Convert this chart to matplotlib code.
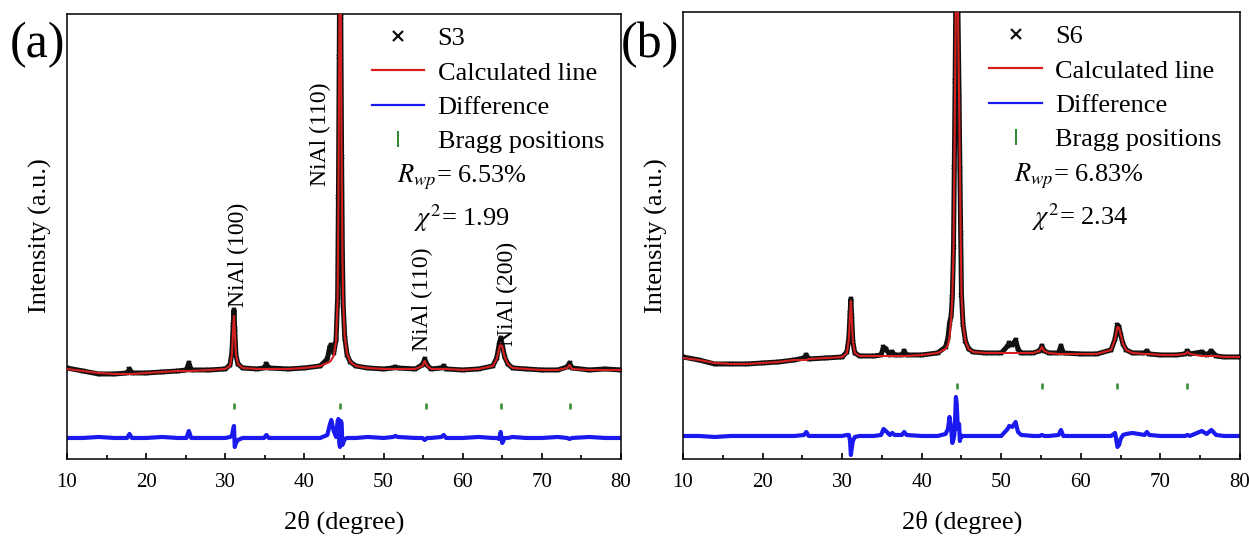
import numpy as np
import matplotlib
matplotlib.use("Agg")
import matplotlib.pyplot as plt
from matplotlib.lines import Line2D

plt.rcParams['font.family'] = ['Liberation Serif', 'DejaVu Serif']
plt.rcParams['mathtext.fontset'] = 'stix'

# ---- panel (a): S3 ----
two_theta_a = [10, 12, 14, 16, 17.6, 17.9, 18.2, 20, 22, 24,
               25.1, 25.4, 25.7, 28, 30, 30.6, 30.85, 31.0, 31.1, 31.2,
               31.35, 31.6, 32.2, 34, 34.9, 35.2, 35.5, 38, 40, 42,
               42.9, 43.2, 43.4, 43.7, 44.0, 44.2, 44.3, 44.4, 44.5, 44.6,
               44.7, 44.8, 44.9, 45.1, 45.4, 45.8, 46.5, 48, 50, 51.2,
               51.5, 51.8, 54, 54.9, 55.2, 55.5, 56, 57.3, 57.6, 57.9,
               60, 62, 63.8, 64.3, 64.6, 64.8, 65.0, 65.3, 65.7, 66.3,
               68, 70, 72, 73.2, 73.5, 73.8, 76, 78, 80]
calc_a = [90, 88, 86, 85, 85, 85, 85, 86, 87, 88,
          88, 88, 88, 89, 90, 93, 105, 130, 143, 128,
          105, 95, 91, 90, 90, 90, 90, 90, 91, 93,
          96, 97, 99, 103, 118, 160, 260, 400, 560, 440,
          300, 205, 155, 122, 105, 97, 93, 91, 90, 90,
          90, 90, 90, 93, 98, 93, 90, 90, 90, 90,
          89, 90, 93, 100, 110, 116, 112, 102, 95, 91,
          90, 89, 89, 91, 94, 90, 89, 89, 89]
obs_a = [91, 88, 85, 85, 86, 90, 86, 86, 87, 88,
         89, 96, 89, 89, 90, 94, 107, 134, 149, 130,
         104, 95, 91, 90, 91, 95, 91, 90, 91, 93,
         100, 112, 114, 106, 119, 162, 262, 402, 562, 442,
         302, 205, 154, 121, 104, 97, 93, 91, 90, 91,
         92, 91, 90, 94, 100, 94, 90, 91, 93, 90,
         89, 90, 93, 101, 114, 121, 114, 102, 95, 91,
         90, 89, 89, 92, 96, 91, 89, 90, 89]
diff_a = [21, 21, 22, 21, 21, 25, 21, 21, 22, 21,
          21, 28, 21, 21, 21, 22, 23, 30, 33, 12,
          16, 19, 21, 21, 21, 24, 21, 21, 21, 21,
          24, 34, 39, 28, 22, 38, 40, 16, 12, 38,
          36, 14, 16, 20, 21, 21, 21, 22, 21, 22,
          23, 22, 21, 21, 19, 21, 21, 22, 24, 21,
          21, 22, 21, 21, 20, 27, 16, 21, 21, 22,
          21, 21, 22, 21, 20, 21, 22, 21, 21]
bragg_a = [31.1, 44.5, 55.3, 64.8, 73.6]
bragg_level_a = 53
peak_labels_a = ['NiAl (100)', 'NiAl (110)', 'NiAl (110)', 'NiAl (200)']
peak_label_x_a = [31.7, 42.0, 54.9, 65.7]
peak_label_y_a = [204, 325, 160, 165]

# ---- panel (b): S6 ----
two_theta_b = [10, 12, 14, 16, 18, 20, 22, 24, 25.2, 25.5,
               25.8, 28, 30, 30.6, 30.85, 31.0, 31.1, 31.2, 31.35, 31.6,
               32.2, 34, 34.9, 35.2, 35.5, 36.0, 36.3, 36.6, 37.5, 37.8,
               38.1, 40, 42, 43.0, 43.3, 43.5, 43.7, 43.85, 44.0, 44.1,
               44.2, 44.3, 44.4, 44.55, 44.7, 44.8, 44.9, 45.0, 45.2, 45.5,
               45.9, 46.5, 48, 50, 50.8, 51.0, 51.4, 51.8, 52.1, 52.5,
               54, 54.8, 55.1, 55.4, 56, 57.2, 57.5, 57.8, 60, 62,
               63.8, 64.3, 64.6, 64.8, 65.0, 65.3, 65.7, 66.5, 68.0, 68.3,
               68.6, 70, 72, 73.1, 73.4, 73.7, 75.2, 75.8, 76.4, 77,
               78, 80]
calc_b = [101, 99, 96, 95, 95, 96, 97, 99, 99, 99,
          100, 101, 102, 106, 120, 145, 158, 142, 118, 106,
          103, 103, 103, 103, 103, 103, 103, 103, 103, 103,
          103, 104, 106, 110, 114, 122, 140, 162, 210, 290,
          375, 470, 560, 450, 360, 290, 225, 165, 135, 118,
          110, 107, 106, 106, 106, 106, 106, 106, 106, 106,
          106, 108, 112, 108, 106, 105, 105, 105, 105, 105,
          109, 120, 132, 131, 125, 115, 109, 106, 105, 105,
          105, 104, 104, 105, 107, 105, 103, 103, 103, 103,
          102, 102]
obs_b = [102, 99, 95, 95, 95, 96, 97, 99, 101, 104,
         100, 101, 102, 107, 121, 146, 160, 143, 117, 106,
         103, 103, 104, 112, 110, 104, 107, 104, 104, 108,
         104, 104, 106, 112, 121, 136, 143, 162, 212, 292,
         378, 475, 565, 452, 362, 290, 226, 164, 134, 118,
         110, 107, 106, 106, 113, 116, 114, 119, 110, 106,
         106, 108, 113, 108, 106, 106, 113, 106, 105, 105,
         109, 120, 134, 132, 124, 115, 109, 106, 106, 108,
         105, 104, 104, 105, 108, 105, 107, 104, 108, 103,
         102, 102]
diff_b = [23, 23, 22, 23, 23, 23, 23, 23, 24, 27,
          23, 23, 23, 24, 24, 18, 4, 10, 18, 22,
          23, 23, 24, 30, 28, 24, 26, 24, 24, 27,
          24, 23, 23, 25, 30, 42, 30, 16, 20, 24,
          40, 62, 55, 30, 35, 18, 24, 22, 23, 23,
          23, 23, 23, 23, 30, 33, 32, 37, 27, 24,
          23, 23, 24, 23, 23, 24, 29, 23, 23, 23,
          23, 26, 12, 14, 20, 24, 25, 26, 24, 27,
          24, 23, 23, 23, 24, 23, 28, 25, 29, 24,
          23, 23]
bragg_b = [44.4, 55.1, 64.6, 73.4]
bragg_level_b = 73

BLACK = '#111111'
RED = '#d62020'
BLUE = '#1a1aee'
GREEN = '#2e8b2e'
FS = 19


def draw_panel(ax, tt, obs, calc, diff, bragg, bragg_level, ytop,
               sample, rwp, chi2):
    ax.plot(tt, obs, color=BLACK, lw=3.6, marker='x', ms=3.5, mew=1.3,
            solid_joinstyle='round', zorder=2)
    ax.plot(tt, calc, color=RED, lw=1.5, zorder=3)
    ax.plot(tt, diff, color=BLUE, lw=3.0, zorder=2)
    ax.plot(bragg, [bragg_level] * len(bragg), ls='none', marker='|',
            ms=5, mew=1.8, color=GREEN, zorder=2)

    ax.set_xlim(10, 80)
    ax.set_ylim(0, ytop)
    ax.set_yticks([])
    ax.set_xticks(np.arange(10, 81, 10))
    ax.set_xticks(np.arange(15, 80, 10), minor=True)
    ax.tick_params(axis='x', which='major', direction='in', length=4,
                   width=1.2, labelsize=15, pad=10)
    ax.tick_params(axis='x', which='minor', direction='in', length=3,
                   width=1.2)
    for sp in ax.spines.values():
        sp.set_linewidth(1.1)

    handles = [
        Line2D([], [], ls='none', marker='x', ms=7, mew=1.6, color=BLACK),
        Line2D([], [], color=RED, lw=1.6),
        Line2D([], [], color=BLUE, lw=1.6),
        Line2D([], [], ls='none', marker='|', ms=11, mew=1.4, color=GREEN),
    ]
    labels = [sample, 'Calculated line', 'Difference', 'Bragg positions']
    ax.legend(handles, labels, loc='upper left',
              bbox_to_anchor=(0.55, 0.971), frameon=False, fontsize=FS,
              handlelength=2.0, handletextpad=0.5, labelspacing=0.41,
              borderpad=0, borderaxespad=0)
    ax.text(0.595, 0.633, r'$R_{wp}$= ' + rwp, transform=ax.transAxes,
            fontsize=FS, ha='left', va='center')
    ax.text(0.627, 0.541, r'$\chi^2$= ' + chi2, transform=ax.transAxes,
            fontsize=FS, ha='left', va='center')


fig = plt.figure(figsize=(12.49, 5.37), dpi=100)
ax_a = fig.add_axes([0.0536, 0.1453, 0.4436, 0.8287])
ax_b = fig.add_axes([0.5468, 0.1453, 0.4460, 0.8324])

draw_panel(ax_a, two_theta_a, obs_a, calc_a, diff_a, bragg_a,
           bragg_level_a, 445, 'S3', '6.53%', '1.99')
draw_panel(ax_b, two_theta_b, obs_b, calc_b, diff_b, bragg_b,
           bragg_level_b, 447, 'S6', '6.83%', '2.34')

for lab, x, y in zip(peak_labels_a, peak_label_x_a, peak_label_y_a):
    ax_a.text(x, y, lab, rotation=90, fontsize=17, ha='center',
              va='center')

# labels outside axes
fig.text(40 / 1249, 1 - 236 / 537, 'Intensity (a.u.)', rotation=90,
         fontsize=FS, ha='center', va='center')
fig.text(656 / 1249, 1 - 236 / 537, 'Intensity (a.u.)', rotation=90,
         fontsize=FS, ha='center', va='center')
fig.text(344 / 1249, 1 - 522 / 537, '2θ (degree)', fontsize=FS,
         ha='center', va='center')
fig.text(962 / 1249, 1 - 522 / 537, '2θ (degree)', fontsize=FS,
         ha='center', va='center')
fig.text(38 / 1249, 1 - 45 / 537, '(a)', fontsize=36, ha='center',
         va='center')
fig.text(650 / 1249, 1 - 45 / 537, '(b)', fontsize=36, ha='center',
         va='center')

fig.savefig('out.png', dpi=100)
